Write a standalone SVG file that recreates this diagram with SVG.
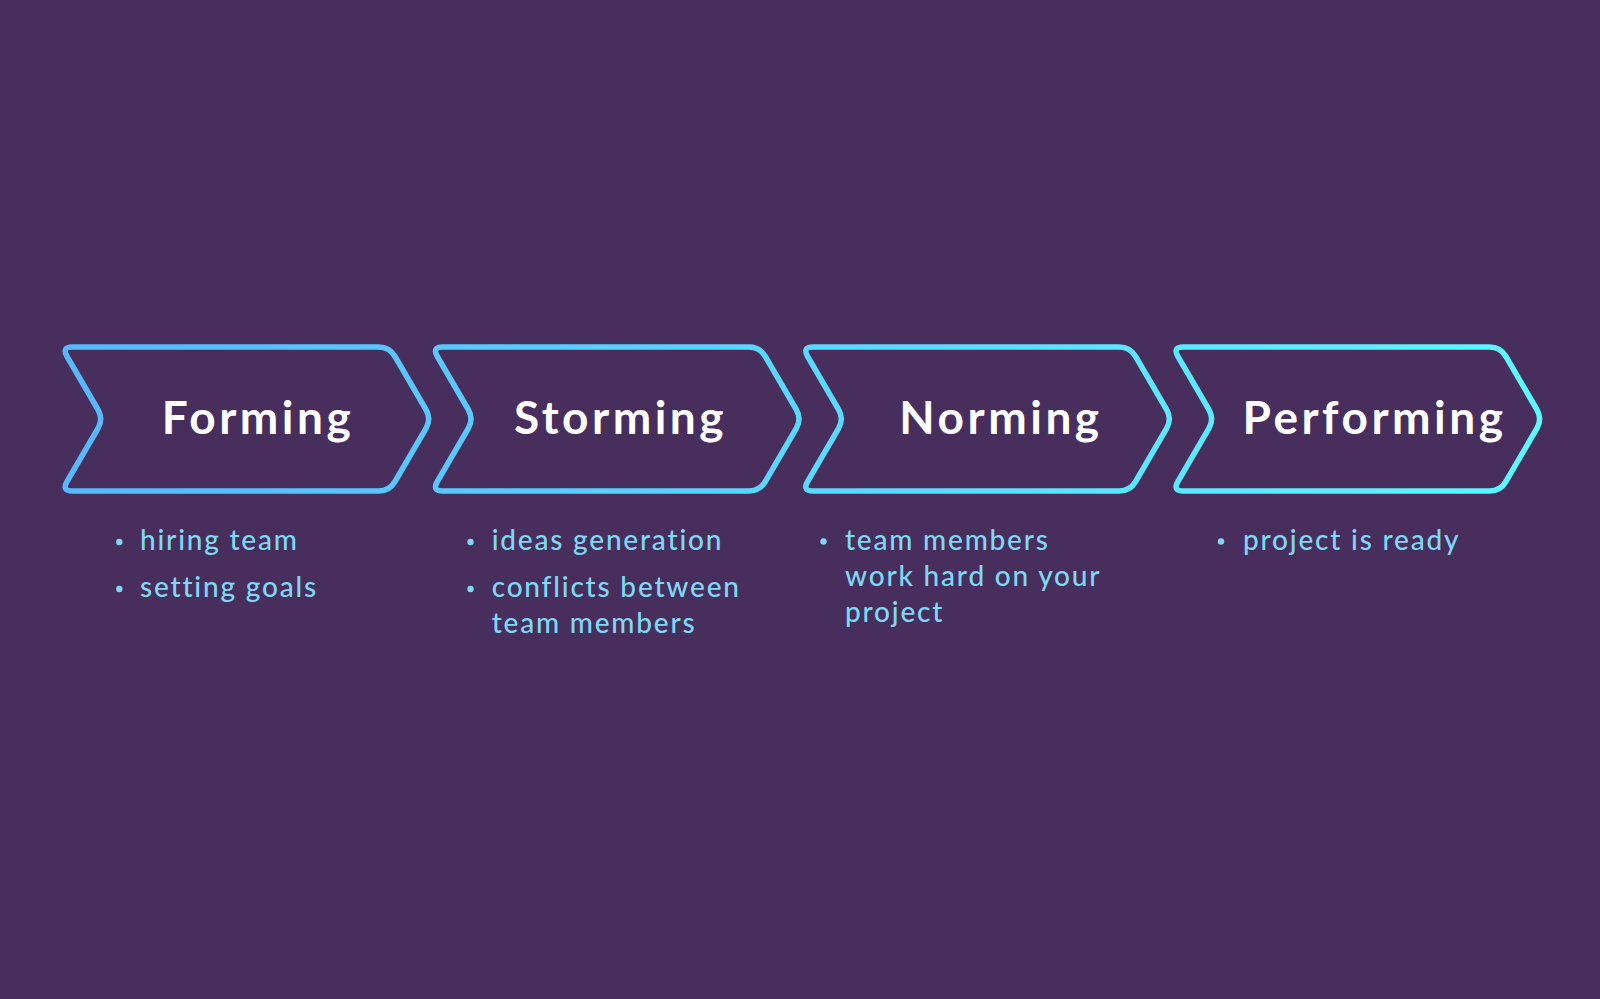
<svg xmlns="http://www.w3.org/2000/svg" width="1600" height="999" viewBox="0 0 1600 999">
<style>
.chev{fill:none;stroke:url(#g);stroke-width:5.5}
.title{font-family:Lato,"Liberation Sans",sans-serif;font-weight:700;font-size:46px;fill:#ffffff;text-anchor:middle;letter-spacing:3.5px}
.item{font-family:Lato,"Liberation Sans",sans-serif;font-weight:500;font-size:28px;fill:#7fd8f7;letter-spacing:1.8px}
.dot{fill:#7fd8f7}
</style>
<defs>
<linearGradient id="g" gradientUnits="userSpaceOnUse" x1="60" y1="0" x2="1545" y2="0">
<stop offset="0" stop-color="#59b7fb"/>
<stop offset="1" stop-color="#5ff7ff"/>
</linearGradient>
</defs>
<rect width="1600" height="999" fill="#482e5c"/>
<g id="forming">
<path class="chev" d="M72.5 347 L378.5 347 Q389.5 347 395.04 356.5 L425.96 409.5 Q431.5 419 425.96 428.5 L395.04 481.5 Q389.5 491 378.5 491 L72.5 491 Q61.5 491 67.04 481.5 L97.96 428.5 Q103.5 419 97.96 409.5 L67.04 356.5 Q61.5 347 72.5 347 Z"/>
<text class="title" x="258" y="434">Forming</text>
<circle class="dot" cx="119.3" cy="542" r="3.2"/>
<text class="item" x="140" y="550">hiring team</text>
<circle class="dot" cx="119.3" cy="589" r="3.2"/>
<text class="item" x="140" y="597">setting goals</text>
</g>
<g id="storming">
<path class="chev" d="M442.8 347 L748.8 347 Q759.8 347 765.34 356.5 L796.26 409.5 Q801.8 419 796.26 428.5 L765.34 481.5 Q759.8 491 748.8 491 L442.8 491 Q431.8 491 437.34 481.5 L468.26 428.5 Q473.8 419 468.26 409.5 L437.34 356.5 Q431.8 347 442.8 347 Z"/>
<text class="title" x="620.5" y="434">Storming</text>
<circle class="dot" cx="470.5" cy="542" r="3.2"/>
<text class="item" x="491.7" y="550">ideas generation</text>
<circle class="dot" cx="470.5" cy="589" r="3.2"/>
<text class="item" x="491.7" y="597">conflicts between</text>
<text class="item" x="491.7" y="633">team members</text>
</g>
<g id="norming">
<path class="chev" d="M813.1 347 L1119.1 347 Q1130.1 347 1135.64 356.5 L1166.56 409.5 Q1172.1 419 1166.56 428.5 L1135.64 481.5 Q1130.1 491 1119.1 491 L813.1 491 Q802.1 491 807.64 481.5 L838.56 428.5 Q844.1 419 838.56 409.5 L807.64 356.5 Q802.1 347 813.1 347 Z"/>
<text class="title" x="1001" y="434">Norming</text>
<circle class="dot" cx="823.5" cy="541.5" r="3.2"/>
<text class="item" x="845" y="549.5">team members</text>
<text class="item" x="845" y="585.5">work hard on your</text>
<text class="item" x="845" y="621.5">project</text>
</g>
<g id="performing">
<path class="chev" d="M1183.4 347 L1489.4 347 Q1500.4 347 1505.94 356.5 L1536.86 409.5 Q1542.4 419 1536.86 428.5 L1505.94 481.5 Q1500.4 491 1489.4 491 L1183.4 491 Q1172.4 491 1177.94 481.5 L1208.86 428.5 Q1214.4 419 1208.86 409.5 L1177.94 356.5 Q1172.4 347 1183.4 347 Z"/>
<text class="title" x="1374.5" y="434">Performing</text>
<circle class="dot" cx="1221" cy="541.5" r="3.2"/>
<text class="item" x="1243" y="549.5">project is ready</text>
</g>
<g id="connectors"/>
</svg>
